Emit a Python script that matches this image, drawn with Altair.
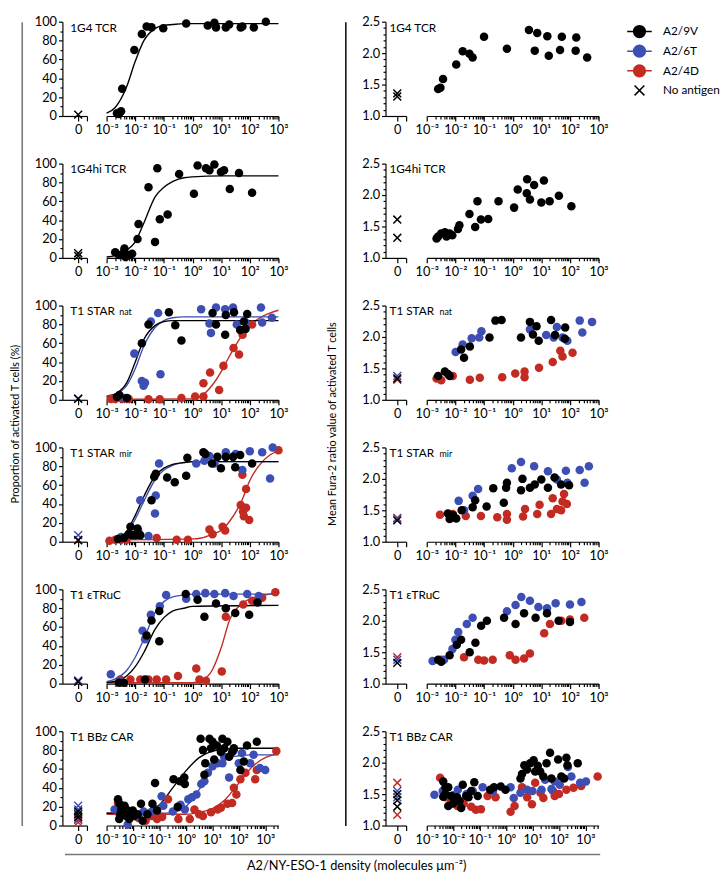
import altair as alt
import pandas as pd

FONT = "Lato"
SERIES = ["A2/9V", "A2/6T", "A2/4D"]
SERIES_COLORS = ["#000000", "#3d4fb4", "#c22a22"]
LEGEND_LABELS = ["A2/9V", "A2/6T", "A2/4D", "No antigen"]
LEGEND_COLORS = ["#000000", "#3d4fb4", "#c22a22", "#000000"]

PANEL_NAMES = ["1G4 TCR", "1G4hi TCR", "T1 STAR", "T1 STAR", "T1 εTRuC", "T1 BBz CAR"]
PANEL_SUBS = ["", "", "nat", "mir", "", ""]

Y_TITLE_LEFT = "Proportion of activated T cells (%)"
Y_TITLE_RIGHT = "Mean Fura-2 ratio value of activated T cells"
X_TITLE = "A2/NY-ESO-1 density (molecules μm⁻²)"

# ---------------- Row 1: 1G4 TCR ----------------
p1_9V_d = [2.7e-3, 3.2e-3, 2.3e-3, 3.5e-3, 9.3e-3, 1.7e-2, 2.5e-2, 3.7e-2, 9.5e-2, 0.60, 3.4, 5.8, 6.6, 14.5, 19, 48, 55, 138, 363]
p1_9V_v = [2, 5, 3, 29, 70, 87, 95, 94, 93, 98, 96, 99, 94, 94, 97, 94, 95, 94, 100]
f1_9V_d = [1e-3, 2e-3, 5e-3, 1e-2, 2e-2, 5e-2, 0.1, 0.2, 0.5, 1, 1000]
f1_9V_v = [3, 9, 31, 58, 80, 93, 96, 97, 98, 98, 98]
p1_zero_s = ["A2/9V"]
p1_zero_v = [1.5]
r1_9V_d = [2.5e-3, 3.0e-3, 3.7e-3, 1.07e-2, 1.8e-2, 3.1e-2, 4.0e-2, 0.1, 0.63, 3.7, 7.2, 5.9, 16.2, 18.2, 45, 52, 158, 166, 398]
r1_9V_v = [1.43, 1.45, 1.59, 1.82, 2.03, 1.99, 1.93, 2.26, 2.07, 2.37, 2.32, 2.04, 2.27, 1.96, 2.05, 2.26, 2.04, 2.25, 1.93]
r1_zero_s = ["A2/9V", "A2/9V"]
r1_zero_v = [1.36, 1.31]

# ---------------- Row 2: 1G4hi TCR ----------------
p2_9V_d = [2.0e-3, 2.7e-3, 4.0e-3, 4.6e-3, 5.9e-3, 7.8e-3, 4.2e-3, 1.2e-2, 1.3e-2, 2.9e-2, 4.9e-2, 5.9e-2, 7.2e-2, 0.135, 0.34, 1.12, 1.5, 2.95, 3.9, 5.8, 9.8, 12.6, 20, 42, 120]
p2_9V_v = [6, 3, 6, 1, 3, 4.5, 10, 20, 36, 75, 17, 95, 41, 46, 89, 68, 98, 95, 93, 99, 91, 93, 73, 90, 69]
f2_9V_d = [1e-3, 2e-3, 5e-3, 1e-2, 2e-2, 5e-2, 0.1, 0.2, 0.5, 1, 10, 1000]
f2_9V_v = [1, 2.5, 8, 17, 37, 65, 75, 81, 85, 86, 87, 87]
p2_zero_s = ["A2/9V", "A2/9V"]
p2_zero_v = [5, 2]
r2_9V_d = [2.2e-3, 2.5e-3, 3.2e-3, 4.3e-3, 4.9e-3, 6.3e-3, 7.8e-3, 1.23e-2, 1.38e-2, 3.1e-2, 4.9e-2, 5.9e-2, 7.8e-2, 0.14, 0.32, 1.12, 1.5, 3.2, 3.1, 4.0, 5.6, 12.3, 10, 19.5, 41, 112]
r2_9V_v = [1.31, 1.34, 1.39, 1.41, 1.34, 1.39, 1.36, 1.46, 1.52, 1.70, 1.49, 1.90, 1.61, 1.62, 1.90, 1.80, 2.09, 2.25, 2.03, 1.93, 2.16, 2.23, 1.88, 1.90, 1.99, 1.82]
r2_zero_s = ["A2/9V", "A2/9V"]
r2_zero_v = [1.61, 1.32]

# ---------------- Row 3: T1 STAR nat ----------------
p3_9V_d = [2.3e-3, 2.8e-3, 5.1e-3, 1.7e-2, 2.9e-2, 0.15, 0.25, 0.41, 5.0, 6.6, 13.8, 14.5, 28, 46, 62, 81, 71]
p3_9V_v = [3, 5, 2, 60, 80, 93, 79, 63, 92, 80, 69, 90, 93, 74, 83, 91, 75]
p3_6T_d = [9.3e-3, 3.5e-2, 6.3e-2, 1.7e-2, 1.95e-2, 2.2e-2, 7.6e-2, 2.0, 3.9, 4.4, 6.6, 13.8, 26, 35, 71, 245, 270, 590, 4.0e-3]
p3_6T_v = [49, 83, 92, 20, 15, 18, 27, 96, 81, 71, 98, 96, 98, 80, 82, 98, 82, 87, 2]
p3_4D_d = [1.4e-3, 2.0e-3, 3.5e-3, 5.9e-3, 2.9e-2, 7.2e-2, 0.41, 1.23, 2.4, 2.4, 4.1, 8.5, 12, 27, 42, 56, 120]
p3_4D_v = [1, 1, 1, 1, 0.5, 0.5, 2, 3.5, 3.5, 17.5, 29, 10.5, 36, 55, 48, 69, 80]
f3_9V_d = [1e-3, 2e-3, 5e-3, 1e-2, 2e-2, 5e-2, 0.1, 0.2, 0.5, 1000]
f3_9V_v = [3, 6, 18, 40, 64, 79, 83, 84, 84, 84]
f3_6T_d = [1e-3, 2e-3, 5e-3, 1e-2, 2e-2, 5e-2, 0.1, 0.2, 0.5, 1000]
f3_6T_v = [4, 6, 15, 33, 57, 77, 84, 87, 88, 88]
f3_4D_d = [1e-3, 1, 2, 5, 10, 20, 50, 100, 200, 500, 1000]
f3_4D_v = [0.5, 1, 4, 16, 30, 47, 67, 78, 86, 92, 95]
p3_zero_s = ["A2/6T", "A2/9V"]
p3_zero_v = [1.5, 1]
r3_9V_d = [2.5e-3, 4.3e-3, 5.5e-3, 6.3e-3, 1.58e-2, 2.0e-2, 3.2e-2, 0.155, 0.25, 0.41, 1.95, 4.0, 6.8, 5.1, 8.1, 21.9, 30, 68, 66]
r3_9V_v = [1.38, 1.45, 1.41, 1.38, 1.80, 1.67, 1.85, 1.99, 2.26, 2.27, 1.99, 2.24, 2.17, 2.04, 1.94, 2.27, 2.03, 2.15, 1.97]
r3_6T_d = [1.02e-2, 1.8e-2, 3.7e-2, 6.8e-2, 8.1e-2, 4.0, 14.8, 27, 35, 55, 81, 219, 270, 589]
r3_6T_v = [1.76, 1.88, 1.98, 1.99, 2.09, 2.12, 2.03, 1.99, 2.16, 1.99, 1.94, 2.26, 2.07, 2.24]
r3_4D_d = [2.2e-3, 3.2e-3, 8.1e-3, 3.2e-2, 7.1e-2, 0.43, 1.23, 2.6, 2.6, 8.3, 25, 46, 55, 123]
r3_4D_v = [1.34, 1.31, 1.38, 1.32, 1.35, 1.36, 1.42, 1.45, 1.36, 1.51, 1.60, 1.78, 1.69, 1.75]
r3_zero_s = ["A2/4D", "A2/6T", "A2/9V"]
r3_zero_v = [1.32, 1.38, 1.34]

# ---------------- Row 4: T1 STAR mir ----------------
p4_9V_d = [6.8e-3, 5.9e-3, 7.9e-3, 1.0e-2, 1.5e-2, 1.2e-2, 3.7e-2, 4.6e-2, 5.2e-2, 0.13, 0.24, 0.60, 0.66, 2.4, 2.8, 4.8, 7.4, 9.8, 14.5, 26, 46, 31, 120, 2.5e-3, 4.0e-3]
p4_9V_v = [16, 8, 7, 7, 7, 14, 44, 69, 72, 68, 63, 70, 89, 95, 93, 83, 90, 78, 90, 90, 92, 79, 83, 3, 4]
p4_6T_d = [1.5e-2, 6.8e-2, 5.2e-2, 4.9e-2, 1.35, 2.6, 3.9, 5.8, 14.5, 32, 55, 100, 270, 510, 630, 3.2e-3, 6.3e-3, 1.26e-2, 2.9e-2]
p4_6T_v = [44, 83, 49, 30, 83, 86, 91, 83, 95, 93, 76, 96, 95, 67, 100, 5, 8, 12, 6]
p4_4D_d = [11.2, 48, 58, 62, 74, 74, 95, 55, 1000, 1.26e-3, 2.0e-3, 3.2e-3, 5.0e-3, 5.6e-2, 0.28, 0.69, 3.9, 5.0, 13.8]
p4_4D_v = [16, 39, 32, 27, 36, 56, 23, 71, 97, 1, 2, 2, 2, 4, 2, 2, 13, 8, 12]
f4_9V_d = [1e-3, 2e-3, 5e-3, 1e-2, 2e-2, 5e-2, 0.1, 0.2, 0.5, 1, 1000]
f4_9V_v = [1, 2.5, 11, 28, 48, 70, 78, 82, 84, 85, 85]
f4_6T_d = [1e-3, 2e-3, 5e-3, 1e-2, 2e-2, 5e-2, 0.1, 0.2, 0.5, 1, 1000]
f4_6T_v = [1, 2, 9, 24, 43, 66, 76, 81, 84, 85, 85]
f4_4D_d = [1e-3, 1, 2, 5, 10, 20, 50, 100, 200, 500, 1000]
f4_4D_v = [2, 3, 4, 8, 12, 22, 42, 65, 80, 92, 96]
p4_zero_s = ["A2/4D", "A2/6T", "A2/9V"]
p4_zero_v = [2, 7, 1.5]
r4_9V_d = [5.5e-3, 6.3e-3, 1.07e-2, 1.66e-2, 4.0e-2, 4.9e-2, 0.123, 0.21, 0.49, 0.59, 0.63, 1.95, 2.2, 4.0, 5.9, 10, 17, 29, 49, 93, 8.3e-3]
r4_9V_v = [1.45, 1.36, 1.37, 1.50, 1.55, 1.66, 1.56, 1.85, 1.62, 1.86, 1.94, 1.82, 2.00, 1.86, 1.91, 1.99, 1.86, 2.02, 1.91, 1.90, 1.42]
r4_6T_d = [1.3e-2, 4.0e-2, 6.2e-2, 0.93, 1.95, 5.6, 17, 35, 72, 81, 219, 324, 457, 6.3e-3, 2.0e-2]
r4_6T_v = [1.65, 1.73, 1.84, 2.17, 2.27, 2.20, 2.12, 1.99, 2.13, 1.94, 2.14, 1.94, 2.20, 1.42, 1.50]
r4_4D_d = [2.9e-3, 8.1e-3, 2.3e-2, 7.8e-2, 0.29, 0.63, 0.63, 2.3, 2.7, 7.2, 8.7, 21.9, 25, 35, 49, 55, 78, 62]
r4_4D_v = [1.43, 1.44, 1.41, 1.41, 1.39, 1.44, 1.35, 1.40, 1.52, 1.44, 1.59, 1.44, 1.69, 1.52, 1.50, 1.64, 1.60, 1.76]
r4_zero_s = ["A2/4D", "A2/6T", "A2/9V"]
r4_zero_v = [1.38, 1.37, 1.34]

# ---------------- Row 5: T1 eTRuC ----------------
p5_9V_d = [2.5e-2, 3.7e-2, 6.9e-2, 6.9e-2, 0.58, 1.5, 2.6, 6.6, 14.5, 31, 95, 186, 2.7e-3, 4.0e-3, 2.2e-2]
p5_9V_v = [51, 67, 77, 45, 95, 89, 71, 85, 80, 75, 73, 86, 1, 1, 4.5]
p5_6T_d = [1.8e-2, 2.2e-2, 3.5e-2, 7.2e-2, 0.12, 0.60, 1.35, 2.8, 5.8, 13.8, 27, 81, 204, 1.4e-3, 2.8e-3]
p5_6T_v = [56, 47, 73, 82, 94, 90, 95, 96, 95, 96, 93, 95, 93, 10, 3]
p5_4D_d = [14.5, 59, 120, 270, 780, 3.0e-3, 6.8e-3, 1.5e-2, 2.9e-2, 5.6e-2, 0.12, 0.31, 1.35, 1.74, 2.95, 10.5]
p5_4D_v = [71, 84, 88, 91, 97, 4.5, 4.5, 4.5, 4.5, 4.5, 4.5, 8, 16, 4.5, 3, 13]
f5_9V_d = [1e-3, 2e-3, 5e-3, 1e-2, 2e-2, 5e-2, 0.1, 0.2, 0.5, 1, 1000]
f5_9V_v = [1, 2.5, 8, 18, 33, 58, 70, 77, 80, 82, 83]
f5_6T_d = [1e-3, 2e-3, 5e-3, 1e-2, 2e-2, 5e-2, 0.1, 0.2, 0.5, 1, 1000]
f5_6T_v = [2, 5, 14, 28, 47, 76, 87, 92, 94, 95, 95]
f5_4D_d = [1e-3, 1, 2, 5, 10, 20, 50, 100, 200, 500, 1000]
f5_4D_v = [1, 1, 3, 15, 38, 68, 84, 90, 92, 95, 96]
p5_zero_s = ["A2/4D", "A2/6T", "A2/9V"]
p5_zero_v = [2.5, 3.5, 2]
r5_9V_d = [2.5e-3, 3.2e-3, 6.3e-3, 1.12e-2, 1.58e-2, 3.16e-2, 5.0e-2, 7.9e-2, 0.126, 0.5, 1.26, 2.5, 6.3, 15.8, 40, 100]
r5_9V_v = [1.38, 1.35, 1.45, 1.62, 1.70, 1.50, 1.65, 1.92, 2.0, 2.05, 1.95, 2.12, 2.05, 2.12, 2.0, 1.98]
r5_6T_d = [1.6e-3, 4.0e-3, 7.9e-3, 1.0e-2, 1.26e-2, 2.5e-2, 4.0e-2, 0.63, 1.26, 2.0, 4.0, 7.9, 15.8, 31.6, 100, 251]
r5_6T_v = [1.36, 1.38, 1.55, 1.70, 1.82, 1.95, 2.05, 2.15, 2.25, 2.38, 2.32, 2.22, 2.20, 2.28, 2.26, 2.30]
r5_4D_d = [3.2e-3, 2.0e-2, 6.3e-2, 0.1, 0.2, 0.79, 1.26, 2.5, 4.0, 12.6, 20, 50, 100, 316]
r5_4D_v = [1.38, 1.42, 1.38, 1.37, 1.38, 1.45, 1.38, 1.40, 1.48, 1.80, 1.95, 2.0, 2.02, 2.05]
r5_zero_s = ["A2/4D", "A2/6T", "A2/9V"]
r5_zero_v = [1.42, 1.38, 1.33]

# ---------------- Row 6: T1 BBz CAR ----------------
p6_9V_d = [2.7e-3, 3.1e-3, 3.6e-3, 4.2e-3, 4.8e-3, 3.3e-3, 3.0e-3, 5.5e-3, 6.3e-3, 7.2e-3, 9.8e-3, 1.1e-2, 1.5e-2, 2.0e-2, 2.3e-2, 3.5e-2, 5.4e-2, 6.8e-2, 8.1e-2, 0.49, 0.34, 0.60, 0.87, 0.91, 3.6, 4.4, 5.4, 5.0, 7.8, 8.9, 10.2, 11.7, 14.8, 21, 24, 28, 37, 43, 56, 65, 115, 155, 204, 480]
p6_9V_v = [28, 23, 17, 14, 21, 12, 7, 10, 16, 7, 16, 10, 12, 23, 5, 12, 23, 45, 16, 20, 49, 47, 51, 44, 92, 80, 66, 54, 92, 82, 89, 70, 85, 78, 92, 82, 89, 73, 78, 82, 59, 68, 85, 89]
p6_6T_d = [2.0e-3, 3.1e-3, 6.3e-3, 9.8e-3, 4.7e-2, 0.12, 0.14, 0.91, 1.23, 1.7, 2.5, 3.8, 5.0, 6.8, 10.2, 15.8, 24, 28, 43, 65, 100, 132, 270, 363, 1000, 631, 5.0e-3, 1.6e-2, 2.5e-2, 6.3e-2, 0.32, 0.63]
p6_6T_v = [17, 12, 1, 14, 14, 31, 21, 17, 28, 30, 33, 44, 47, 56, 63, 66, 66, 73, 51, 80, 66, 77, 66, 75, 59, 61, 18, 10, 15, 18, 15, 22]
p6_4D_d = [2.7e-3, 4.2e-3, 3.0e-2, 8.1e-2, 0.126, 0.21, 0.52, 1.4, 2.1, 4.4, 8.9, 15.8, 21, 37, 56, 65, 81, 115, 178, 417, 479, 2630, 6.3e-3, 1.6e-2, 5.0e-2, 3.16]
p6_4D_v = [24, 17, 5, 7, 9, 28, 7, 7, 17, 10, 14, 17, 19, 23, 24, 40, 33, 49, 56, 49, 59, 79, 12, 8, 10, 12]
f6_9V_d = [1e-3, 1e-2, 3.16e-2, 0.1, 0.316, 1, 3.16, 10, 31.6, 100, 3162]
f6_9V_v = [13, 13, 15, 22, 40, 58, 72, 79, 81, 82, 82]
f6_6T_d = [1e-3, 0.1, 0.316, 1, 3.16, 10, 31.6, 100, 316, 3162]
f6_6T_v = [13, 13, 14, 20, 38, 60, 71, 74, 75, 75]
f6_4D_d = [1e-3, 1, 3.16, 10, 31.6, 100, 316, 1000, 3162]
f6_4D_v = [12, 12, 14, 18, 28, 45, 62, 72, 76]
p6_zero_s = ["A2/4D", "A2/4D", "A2/6T", "A2/6T", "A2/6T", "A2/9V", "A2/9V", "A2/9V"]
p6_zero_v = [3.5, 6, 21, 17, 7, 15, 12, 9]
r6_9V_d = [4.2e-3, 5.1e-3, 6.5e-3, 4.2e-3, 6.5e-3, 8.5e-3, 1.15e-2, 1.74e-2, 2.0e-2, 2.3e-2, 3.1e-2, 3.8e-2, 4.8e-2, 6.3e-2, 8.5e-2, 0.35, 0.63, 0.95, 3.5, 4.9, 6.2, 8.1, 11, 12.6, 19.5, 25.7, 34, 46, 52, 93, 123, 191, 209, 513, 5.0e-3, 1.0e-2, 1.4e-2, 0.25, 4.0, 15.8, 158]
r6_9V_v = [1.70, 1.61, 1.61, 1.46, 1.31, 1.47, 1.39, 1.39, 1.28, 1.65, 1.47, 1.45, 1.55, 1.69, 1.47, 1.61, 1.62, 1.57, 1.75, 1.96, 1.89, 1.99, 2.04, 1.86, 1.86, 1.78, 1.99, 2.16, 1.75, 2.05, 1.78, 2.08, 1.96, 1.99, 1.50, 1.35, 1.45, 1.57, 1.82, 1.95, 1.75]
r6_6T_d = [1.95e-3, 1.5e-2, 5.5e-2, 0.13, 1.48, 1.95, 3.5, 6.2, 22, 30, 52, 69, 107, 219, 295, 1050, 4.0e-3, 1.0e-2, 3.2e-2, 0.32, 10, 631]
r6_6T_v = [1.49, 1.57, 1.55, 1.61, 1.61, 1.44, 1.52, 1.57, 1.57, 1.73, 1.58, 1.70, 1.65, 1.93, 1.78, 1.70, 1.55, 1.48, 1.50, 1.55, 1.55, 1.68]
r6_4D_d = [3.2e-3, 8.5e-3, 1.45e-2, 4.8e-2, 7.2e-2, 0.112, 0.2, 1.48, 2.1, 4.0, 9.5, 12.6, 25.7, 60, 69, 191, 355, 692, 2900, 5.0e-3, 2.5e-2, 0.4, 6.3, 20, 100]
r6_4D_v = [1.76, 1.38, 1.31, 1.30, 1.25, 1.26, 1.47, 1.22, 1.31, 1.61, 1.34, 1.68, 1.44, 1.55, 1.47, 1.57, 1.60, 1.63, 1.78, 1.45, 1.35, 1.45, 1.45, 1.52, 1.50]
r6_zero_s = ["A2/4D", "A2/4D", "A2/6T", "A2/6T", "A2/9V", "A2/9V", "A2/9V"]
r6_zero_v = [1.68, 1.17, 1.55, 1.45, 1.50, 1.40, 1.30]

# ---------------- axis ticks ----------------
MAJOR_X = [1e-3, 1e-2, 1e-1, 1, 10, 100, 1000]
MINOR_MANT = [2, 3, 4, 5, 6, 7, 8, 9]
MINOR_X = [m * 10.0 ** k for k in range(-3, 3) for m in MINOR_MANT]
MINOR_X_WIDE = MINOR_X + [2000, 3000]
X_LABEL_EXPR = "'10' + ['⁻³','⁻²','⁻¹','⁰','¹','²','³'][round(log(datum.value) / LN10) + 3]"

LEFT_Y = dict(domain=[0, 100], majors=[0, 20, 40, 60, 80, 100], minors=[10, 30, 50, 70, 90], fmt="d")
RIGHT_Y = dict(domain=[1.0, 2.5], majors=[1.0, 1.5, 2.0, 2.5],
               minors=[1.1, 1.2, 1.3, 1.4, 1.6, 1.7, 1.8, 1.9, 2.1, 2.2, 2.3, 2.4], fmt=".1f")

XPATH = "M-1,-1L1,1M-1,1L1,-1"
LEG_LINE_DOT = "M-1.25,0L1.25,0M-0.6,0A0.6,0.6,0,1,0,0.6,0A0.6,0.6,0,1,0,-0.6,0Z"
LEG_X = "M-0.5,-0.5L0.5,0.5M-0.5,0.5L0.5,-0.5"
LEGEND_SHAPES = [LEG_LINE_DOT, LEG_LINE_DOT, LEG_LINE_DOT, LEG_X]

ROW_H = 96
ROW_SPACING = 21.5          # between full bounds of consecutive panel rows
LINE_H = 818.5              # height of the outer vertical guide lines
MAIN_W = 175

color_enc = alt.Color("series:N", scale=alt.Scale(domain=SERIES, range=SERIES_COLORS), legend=None)


def frame(*triples):
    rows = []
    for s, ds, vs in triples:
        for d, v in zip(ds, vs):
            rows.append({"series": s, "d": d, "v": v})
    return pd.DataFrame(rows)


def title_layers(name, sub, tx, sx):
    out = [alt.Chart(pd.DataFrame({"t": [name]})).mark_text(
        align="left", baseline="alphabetic", font=FONT, fontSize=12, color="black"
    ).encode(text="t:N", x=alt.value(tx), y=alt.value(10))]
    if sub:
        out.append(alt.Chart(pd.DataFrame({"t": [sub]})).mark_text(
            align="left", baseline="alphabetic", font=FONT, fontSize=9, color="black"
        ).encode(text="t:N", x=alt.value(sx), y=alt.value(10)))
    return out


def zero_panel(series, values, ycfg, xdom, width, name, sub, tx, sx):
    df = pd.DataFrame({"series": series, "z": [0.0] * len(series), "v": values})
    yscale = alt.Scale(domain=ycfg["domain"], nice=False, zero=False)
    xenc = alt.X("z:Q", scale=alt.Scale(domain=xdom, nice=False, zero=False),
                 axis=alt.Axis(values=[0, xdom[1]], labelExpr="datum.value == 0 ? '0' : ''",
                               title=None, tickSize=5, labelFlush=False, labelOverlap=False,
                               labelPadding=3))
    ymaj = alt.Y("v:Q", scale=yscale,
                 axis=alt.Axis(values=ycfg["majors"], format=ycfg["fmt"], title=None, tickSize=4,
                               labelPadding=2, labelOverlap=False, orient="left"))
    ymin = alt.Y("v:Q", scale=yscale,
                 axis=alt.Axis(values=ycfg["minors"], labels=False, title=None, tickSize=2.5,
                               domain=False, orient="left"))
    a = alt.Chart(df).mark_point(shape=XPATH, size=64, strokeWidth=1.5, opacity=1).encode(
        x=xenc, y=ymaj, color=color_enc)
    b = alt.Chart(df).mark_point(opacity=0).encode(x=xenc, y=ymin)
    return alt.layer(a, b, *title_layers(name, sub, tx, sx)).resolve_axis(y="independent").properties(
        width=width, height=ROW_H)


def main_panel(pts, fits, ycfg, xmax, extra=None):
    xscale = alt.Scale(type="log", domain=[1e-3, xmax], nice=False)
    minors = MINOR_X if xmax <= 1000 else MINOR_X_WIDE
    yscale = alt.Scale(domain=ycfg["domain"], nice=False, zero=False)
    xmaj = alt.X("d:Q", scale=xscale,
                 axis=alt.Axis(values=MAJOR_X, labelExpr=X_LABEL_EXPR, title=None, tickSize=5,
                               labelFlush=False, labelOverlap=False, labelPadding=3))
    xmin = alt.X("d:Q", scale=xscale,
                 axis=alt.Axis(values=minors, labels=False, title=None, tickSize=3, domain=False,
                               orient="bottom"))
    y = alt.Y("v:Q", scale=yscale, axis=None)
    layers = []
    if fits is not None:
        layers.append(alt.Chart(fits).mark_line(strokeWidth=1.4, interpolate="monotone").encode(
            x=alt.X("d:Q", scale=xscale, axis=None), y=y, color=color_enc))
    layers.append(alt.Chart(pts).mark_circle(size=75, opacity=1).encode(x=xmaj, y=y, color=color_enc))
    layers.append(alt.Chart(pts).mark_circle(size=75, opacity=0).encode(x=xmin, y=y))
    if extra is not None:
        layers.append(extra)
    return alt.layer(*layers).resolve_axis(x="independent").properties(width=MAIN_W, height=ROW_H)


LEFT_ROWS = [
    (frame(("A2/9V", p1_9V_d, p1_9V_v)), frame(("A2/9V", f1_9V_d, f1_9V_v)), p1_zero_s, p1_zero_v, 1000),
    (frame(("A2/9V", p2_9V_d, p2_9V_v)), frame(("A2/9V", f2_9V_d, f2_9V_v)), p2_zero_s, p2_zero_v, 1000),
    (frame(("A2/4D", p3_4D_d, p3_4D_v), ("A2/6T", p3_6T_d, p3_6T_v), ("A2/9V", p3_9V_d, p3_9V_v)),
     frame(("A2/4D", f3_4D_d, f3_4D_v), ("A2/6T", f3_6T_d, f3_6T_v), ("A2/9V", f3_9V_d, f3_9V_v)),
     p3_zero_s, p3_zero_v, 1000),
    (frame(("A2/4D", p4_4D_d, p4_4D_v), ("A2/6T", p4_6T_d, p4_6T_v), ("A2/9V", p4_9V_d, p4_9V_v)),
     frame(("A2/4D", f4_4D_d, f4_4D_v), ("A2/6T", f4_6T_d, f4_6T_v), ("A2/9V", f4_9V_d, f4_9V_v)),
     p4_zero_s, p4_zero_v, 1000),
    (frame(("A2/4D", p5_4D_d, p5_4D_v), ("A2/6T", p5_6T_d, p5_6T_v), ("A2/9V", p5_9V_d, p5_9V_v)),
     frame(("A2/4D", f5_4D_d, f5_4D_v), ("A2/6T", f5_6T_d, f5_6T_v), ("A2/9V", f5_9V_d, f5_9V_v)),
     p5_zero_s, p5_zero_v, 1000),
    (frame(("A2/4D", p6_4D_d, p6_4D_v), ("A2/6T", p6_6T_d, p6_6T_v), ("A2/9V", p6_9V_d, p6_9V_v)),
     frame(("A2/4D", f6_4D_d, f6_4D_v), ("A2/6T", f6_6T_d, f6_6T_v), ("A2/9V", f6_9V_d, f6_9V_v)),
     p6_zero_s, p6_zero_v, 10 ** 3.5),
]

RIGHT_ROWS = [
    (frame(("A2/9V", r1_9V_d, r1_9V_v)), r1_zero_s, r1_zero_v, 1000),
    (frame(("A2/9V", r2_9V_d, r2_9V_v)), r2_zero_s, r2_zero_v, 1000),
    (frame(("A2/4D", r3_4D_d, r3_4D_v), ("A2/6T", r3_6T_d, r3_6T_v), ("A2/9V", r3_9V_d, r3_9V_v)),
     r3_zero_s, r3_zero_v, 1000),
    (frame(("A2/4D", r4_4D_d, r4_4D_v), ("A2/6T", r4_6T_d, r4_6T_v), ("A2/9V", r4_9V_d, r4_9V_v)),
     r4_zero_s, r4_zero_v, 1000),
    (frame(("A2/4D", r5_4D_d, r5_4D_v), ("A2/6T", r5_6T_d, r5_6T_v), ("A2/9V", r5_9V_d, r5_9V_v)),
     r5_zero_s, r5_zero_v, 1000),
    (frame(("A2/4D", r6_4D_d, r6_4D_v), ("A2/6T", r6_6T_d, r6_6T_v), ("A2/9V", r6_9V_d, r6_9V_v)),
     r6_zero_s, r6_zero_v, 10 ** 3.5),
]

# ---------------- legend (native, via hidden layer) ----------------
LEG = alt.Legend(title=None, orient="none", legendX=618, legendY=-1, symbolSize=400,
                 symbolStrokeWidth=1.5, symbolOpacity=1, labelFont=FONT, labelFontSize=12,
                 labelColor="black", labelOffset=13, rowPadding=0, padding=0)
legend_layer = alt.Chart(pd.DataFrame({"series": LEGEND_LABELS})).mark_point(filled=True, opacity=0).encode(
    fill=alt.Fill("series:N", scale=alt.Scale(domain=LEGEND_LABELS, range=LEGEND_COLORS), legend=LEG),
    stroke=alt.Stroke("series:N", scale=alt.Scale(domain=LEGEND_LABELS, range=LEGEND_COLORS), legend=LEG),
    shape=alt.Shape("series:N", scale=alt.Scale(domain=LEGEND_LABELS, range=LEGEND_SHAPES), legend=LEG),
)

left_rows = []
for i, (pts, fits, zs, zv, xmax) in enumerate(LEFT_ROWS):
    z = zero_panel(zs, zv, LEFT_Y, [-1.8, 1], 25, PANEL_NAMES[i], PANEL_SUBS[i], 8, 58)
    m = main_panel(pts, fits, LEFT_Y, xmax)
    left_rows.append(alt.hconcat(z, m, spacing=20, bounds="flush"))

right_rows = []
for i, (pts, zs, zv, xmax) in enumerate(RIGHT_ROWS):
    z = zero_panel(zs, zv, RIGHT_Y, [-1.33, 1], 21, PANEL_NAMES[i], PANEL_SUBS[i], 4, 55)
    m = main_panel(pts, None, RIGHT_Y, xmax, extra=legend_layer if i == 0 else None)
    right_rows.append(alt.hconcat(z, m, spacing=21, bounds="flush"))

col_left = alt.vconcat(*left_rows, spacing=ROW_SPACING)
col_right = alt.vconcat(*right_rows, spacing=ROW_SPACING)


def ytitle_chart(text, color, pad):
    return alt.Chart(pd.DataFrame({"v": [0.0]})).mark_point(opacity=0, size=0).encode(
        y=alt.Y("v:Q", scale=alt.Scale(domain=[0, 1]),
                axis=alt.Axis(title=text, labels=False, ticks=False, grid=False, domainColor=color,
                              domainWidth=1.6, titleFont=FONT, titleFontSize=11,
                              titleFontWeight="normal", titleColor="black", titlePadding=pad))
    ).properties(width=1, height=LINE_H)


bottom = alt.Chart(pd.DataFrame({"v": [0.0]})).mark_point(opacity=0, size=0).encode(
    x=alt.X("v:Q", scale=alt.Scale(domain=[0, 1], range=[43.5, 588.5]),
            axis=alt.Axis(title=X_TITLE, labels=False, ticks=False, grid=False, domainColor="#777777",
                          domainWidth=1.6, titleFont=FONT, titleFontSize=13, titleFontWeight="normal",
                          titleColor="black", titleX=340.5, titleY=16, titleBaseline="alphabetic",
                          titleAlign="center")),
    y=alt.Y("v:Q", scale=alt.Scale(domain=[0, 1]), axis=None),
).properties(width=600, height=1)

top = alt.hconcat(
    alt.hconcat(ytitle_chart(Y_TITLE_LEFT, "#7a7a7a", 1), col_left, spacing=11.4),
    alt.hconcat(ytitle_chart(Y_TITLE_RIGHT, "#111111", 8), col_right, spacing=14.9),
    spacing=38.5,
)

chart = alt.vconcat(top, bottom, spacing=6.5).properties(
    padding={"left": 2, "top": 0, "right": 0, "bottom": 0})
chart = chart.configure(font=FONT, background="white").configure_view(stroke=None).configure_axis(
    labelFont=FONT, labelFontSize=13, labelColor="black", domainColor="black", domainWidth=1.2,
    tickColor="black", tickWidth=1.2, grid=False, titleFont=FONT, titleColor="black",
)

chart.save("out.html", embed_options={"renderer": "svg", "actions": False})
